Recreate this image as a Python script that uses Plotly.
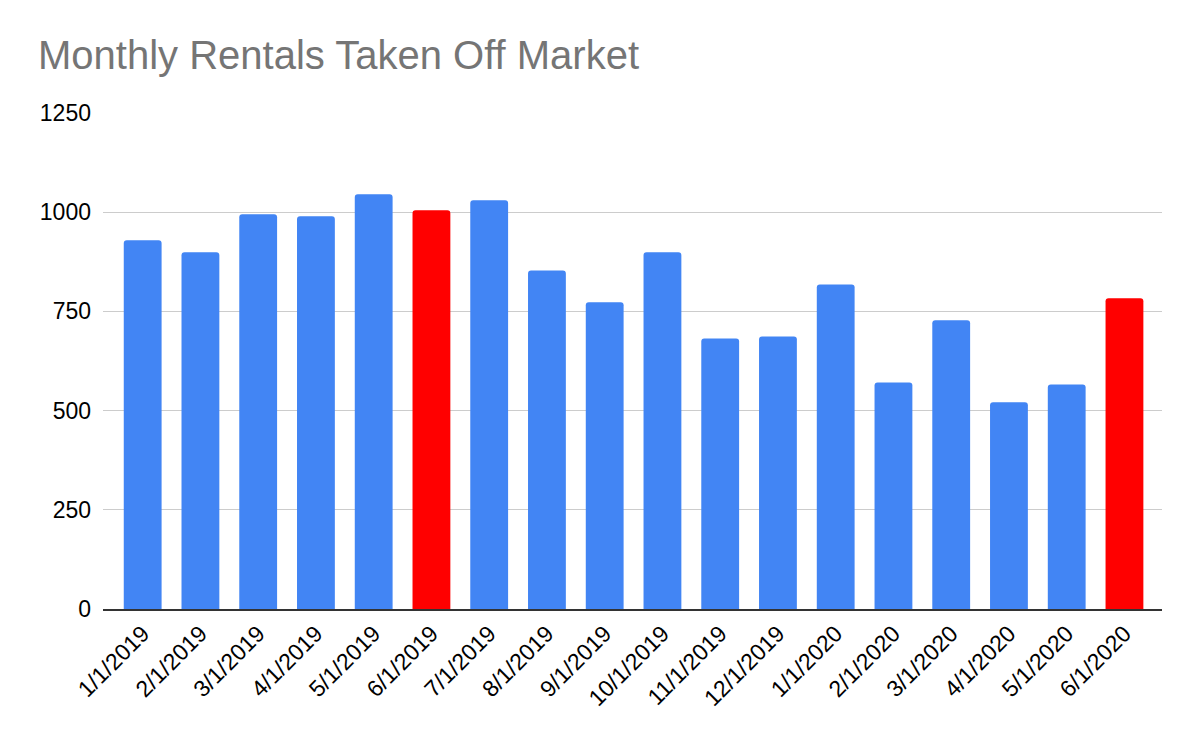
import plotly.graph_objs as go

# month labels and counts
months = ['1/1/2019', '2/1/2019', '3/1/2019', '4/1/2019', '5/1/2019', '6/1/2019',
          '7/1/2019', '8/1/2019', '9/1/2019', '10/1/2019', '11/1/2019', '12/1/2019',
          '1/1/2020', '2/1/2020', '3/1/2020', '4/1/2020', '5/1/2020', '6/1/2020']
rentals = [929, 899, 995, 990, 1045, 1005, 1030, 853, 773, 899, 682, 687,
           818, 571, 728, 521, 566, 783]
highlight = ['6/1/2019', '6/1/2020']

colors = ['#ff0000' if m in highlight else '#4285f4' for m in months]

data = [go.Bar(x=months, y=rentals, marker=dict(color=colors, cornerradius=3, line=dict(width=0)),
               hoverinfo='x+y')]

# page has an 8px body margin, so margins are shifted to compensate
layout = go.Layout(
    title=dict(text='Monthly Rentals Taken Off Market', x=0.025, xanchor='left',
               y=0.937, yanchor='middle',
               font=dict(family='Liberation Sans, Arial', size=40, color='#757575')),
    width=1200, height=742,
    margin=dict(l=95, r=46, t=105, b=141),
    plot_bgcolor='white', paper_bgcolor='white',
    bargap=0.345,
    showlegend=False,
    font=dict(family='Liberation Sans, Arial', size=23, color='#000000'),
    xaxis=dict(type='category', tickangle=-45, showgrid=False, showline=True,
               range=[-0.687, 17.65],
               linecolor='#333333', linewidth=2, ticks='', tickfont=dict(size=23)),
    yaxis=dict(range=[0, 1250], tickvals=[0, 250, 500, 750, 1000, 1250],
               showgrid=True, gridcolor='#cccccc', gridwidth=1, zeroline=False,
               ticks='', tickfont=dict(size=23), ticklabelstandoff=11),
)

fig = go.Figure(data=data, layout=layout)
fig.write_html('out.html')
